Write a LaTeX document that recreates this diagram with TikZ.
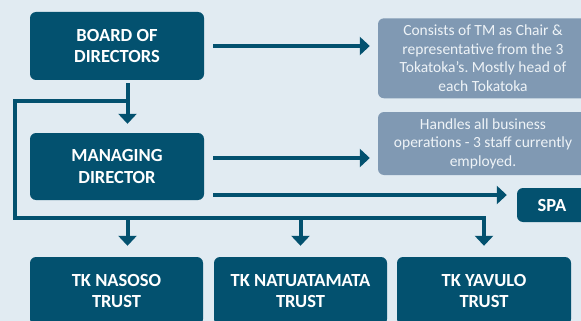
\documentclass[tikz,border=0pt]{standalone}
\usepackage{fontspec}
\setmainfont{Carlito}
\frenchspacing
\usetikzlibrary{arrows.meta}
\definecolor{bg}{HTML}{E1EBF2}
\definecolor{dark}{HTML}{03516F}
\definecolor{info}{HTML}{8099B3}
\definecolor{infotext}{HTML}{EEF3F7}
\tikzset{
  darkbox/.style={fill=dark, rounded corners=6pt, text=white, align=center,
    font=\fontsize{18.5}{21.7}\selectfont\bfseries, inner sep=0pt},
  infobox/.style={fill=info, rounded corners=6pt, text=infotext, align=center,
    font=\fontsize{15.5}{18.6}\selectfont, inner sep=0pt},
  conn/.style={draw=dark, line width=4pt},
  arr/.style={conn, -{Triangle[length=10pt,width=18pt]}},
}
\begin{document}
\begin{tikzpicture}[x=1pt,y=-1pt]
\fill[bg] (0,0) rectangle (581,321);
\useasboundingbox (0,0) rectangle (581,321);
\clip (0,0) rectangle (581,321);

\node[darkbox, minimum width=174pt, minimum height=68pt] (bod) at (117,46) {BOARD OF\\DIRECTORS};
\node[darkbox, minimum width=174pt, minimum height=67pt] (md) at (117,166.5) {MANAGING\\DIRECTOR};
\node[infobox, minimum width=210pt, minimum height=80pt] (info1) at (483,58.3) {Consists of TM as Chair \&\\representative from the 3\\Tokatoka’s. Mostly head of\\each Tokatoka};
\node[infobox, minimum width=210pt, minimum height=63pt] (info2) at (483,143.5) {Handles all business\\operations - 3 staff currently\\employed.};
\node[darkbox, minimum width=70pt, minimum height=34pt] (spa) at (552,205) {SPA};
\node[darkbox, minimum width=173pt, minimum height=68pt] (nas) at (116.5,291) {TK NASOSO\\TRUST};
\node[darkbox, minimum width=173pt, minimum height=68pt] (nat) at (300.5,291) {TK NATUATAMATA\\TRUST};
\node[darkbox, minimum width=174pt, minimum height=68pt] (yav) at (484,291) {TK YAVULO\\TRUST};

\draw[arr, shorten <=9pt, shorten >=8pt] (bod.east) -- (info1.west |- bod.east);
\draw[arr, shorten <=3pt, shorten >=9pt] ([xshift=10.5pt]bod.south) -- ([xshift=10.5pt]md.north);
\coordinate (j) at (127.5,100.5);
\coordinate (k) at (15,217.5);
\draw[arr, shorten >=11pt] (j) -| (k) -| (yav.north);
\draw[arr, shorten >=11pt] ([xshift=11pt]nas.north |- k) -- ([xshift=11pt]nas.north);
\draw[arr, shorten >=11pt] (nat.north |- k) -- (nat.north);
\draw[arr, shorten <=9pt, shorten >=8pt] ([yshift=8.5pt]md.east) -- ([yshift=8.5pt]md.east -| info2.west);
\draw[arr, shorten <=9pt, shorten >=10pt] ([yshift=-28.5pt]md.east) -- ([yshift=-28.5pt]md.east -| spa.west);
\end{tikzpicture}
\end{document}
